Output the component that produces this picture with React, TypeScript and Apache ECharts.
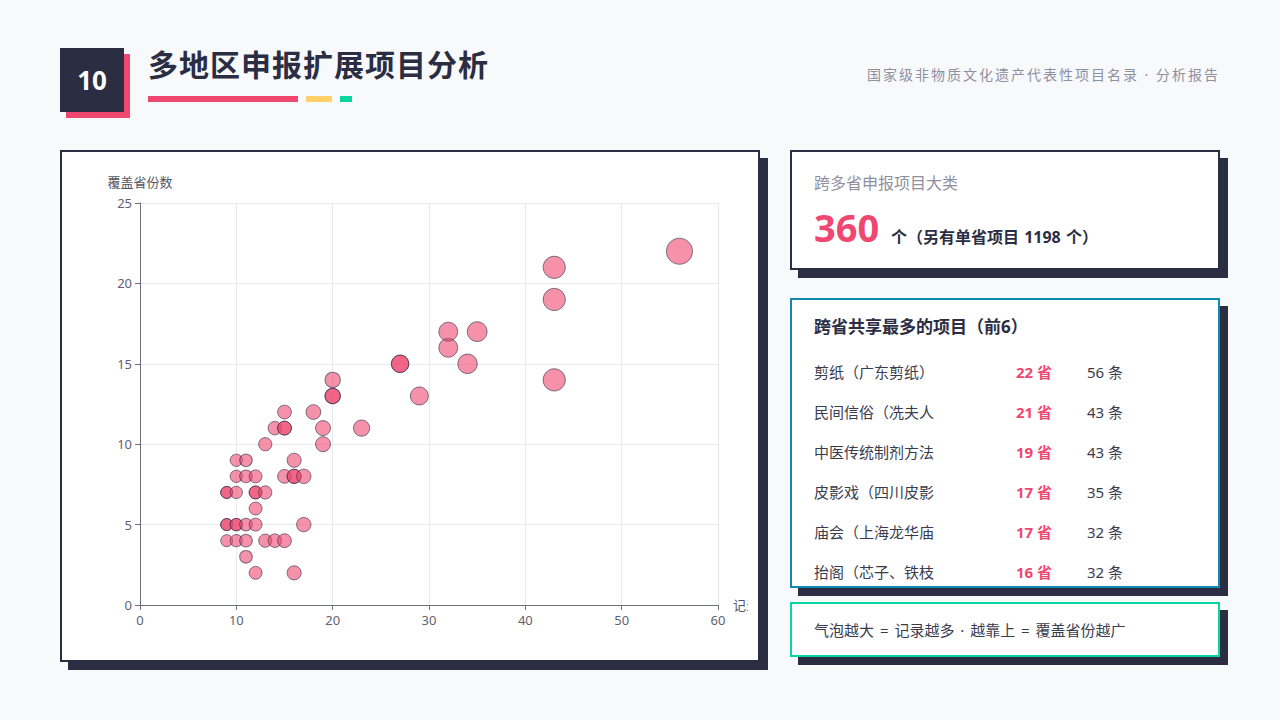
import React, { useEffect, useRef } from "react";
import * as echarts from "echarts";

const FONT = '"Noto Sans", "Noto Sans CJK SC", sans-serif';

// scatter: x = 记录数, y = 覆盖省份数
const recordCounts = [
  9, 9, 10, 12, 12, 13,
  9, 9, 10, 10, 11, 12, 17,
  9, 10, 11, 13, 14, 15,
  10, 11, 16,
  10, 11, 12, 15, 16, 16, 17,
  12,
  11,
  12, 16,
  13, 19,
  14, 15, 15, 19, 23,
  15, 18,
  20, 20, 29,
  20, 43,
  27, 27, 34,
  32,
  32, 35,
  43,
  43,
  56,
];
const provinceCounts = [
  7, 7, 7, 7, 7, 7,
  5, 5, 5, 5, 5, 5, 5,
  4, 4, 4, 4, 4, 4,
  9, 9, 9,
  8, 8, 8, 8, 8, 8, 8,
  6,
  3,
  2, 2,
  10, 10,
  11, 11, 11, 11, 11,
  12, 12,
  13, 13, 13,
  14, 14,
  15, 15, 15,
  16,
  17, 17,
  19,
  21,
  22,
];

const xTickMax = 60;
const yTickMax = 25;

const topNames = [
  "剪纸（广东剪纸）",
  "民间信俗（冼夫人",
  "中医传统制剂方法",
  "皮影戏（四川皮影",
  "庙会（上海龙华庙",
  "抬阁（芯子、铁枝",
];
const topProvinces = [22, 21, 19, 17, 17, 16];
const topRecords = [56, 43, 43, 35, 32, 32];

const DARK = "#2b2d42";
const PINK = "#ef476f";

function T(props: {
  x?: number;
  right?: number;
  cy: number;
  size: number;
  color: string;
  bold?: boolean;
  ls?: number;
  ws?: number;
  children: React.ReactNode;
}) {
  const L = Math.round(props.size * 1.3);
  const top = props.cy - L / 2 - 0.056 * props.size;
  const style: React.CSSProperties = {
    position: "absolute",
    top,
    lineHeight: L + "px",
    height: L,
    fontSize: props.size,
    color: props.color,
    fontWeight: props.bold ? 700 : 400,
    whiteSpace: "nowrap",
    letterSpacing: props.ls ? props.ls + "px" : undefined,
    wordSpacing: props.ws ? props.ws + "px" : undefined,
    fontFamily: FONT,
  };
  if (props.right !== undefined) {
    style.right = props.right;
    style.textAlign = "right";
  } else style.left = props.x;
  return <div style={style}>{props.children}</div>;
}

function box(
  left: number,
  top: number,
  w: number,
  h: number,
  border: string
): React.CSSProperties {
  return {
    position: "absolute",
    left,
    top,
    width: w,
    height: h,
    boxSizing: "border-box",
    border: "2px solid " + border,
    background: "#ffffff",
    boxShadow: "8px 8px 0 " + DARK,
  };
}

function Chart() {
  const ref = useRef<HTMLDivElement>(null);
  useEffect(() => {
    if (!ref.current) return;
    const chart = echarts.init(ref.current, undefined, { renderer: "svg" });
    const data = recordCounts.map((r, i) => [r, provinceCounts[i]]);
    const axisCommon = {
      type: "value" as const,
      min: 0,
      nameGap: 15,
      nameTextStyle: { fontSize: 13, color: "#545666", fontFamily: FONT },
      axisLine: { show: true, lineStyle: { color: "#6e7079" } },
      axisTick: { show: true, length: 5, lineStyle: { color: "#6e7079" } },
      axisLabel: { fontSize: 13, color: "#5f6170", margin: 8, fontFamily: FONT },
      splitLine: { show: true, lineStyle: { color: "#e8e9ee" } },
    };
    chart.setOption({
      animation: false,
      textStyle: { fontFamily: FONT },
      grid: {
        left: 78,
        top: 51,
        right: 30,
        bottom: 55,
        containLabel: false,
        outerBoundsMode: "none",
      },
      xAxis: { ...axisCommon, max: xTickMax, interval: 10, name: "记录数" },
      yAxis: { ...axisCommon, max: yTickMax, interval: 5, name: "覆盖省份数" },
      series: [
        {
          type: "scatter",
          data,
          symbolSize: (v: number[]) => 9.3 + 0.3 * v[0],
          itemStyle: {
            color: PINK,
            opacity: 0.6,
            borderColor: DARK,
            borderWidth: 1,
          },
        },
      ],
    });
    return () => chart.dispose();
  }, []);
  return (
    <div
      ref={ref}
      style={{ position: "absolute", left: 0, top: 0, width: 686, height: 508, overflow: "hidden" }}
    />
  );
}

export default function App() {
  const rowY = [373, 413, 453, 493, 533, 573];
  return (
    <div
      style={{
        position: "fixed",
        left: 0,
        top: 0,
        width: 1280,
        height: 720,
        background: "#f8f9fb",
        fontFamily: FONT,
        overflow: "hidden",
      }}
    >
      {/* header badge */}
      <div style={{ position: "absolute", left: 66, top: 54, width: 64, height: 64, background: PINK }} />
      <div
        style={{
          position: "absolute",
          left: 60,
          top: 48,
          width: 64,
          height: 64,
          background: DARK,
          color: "#fff",
          fontSize: 26,
          fontWeight: 700,
          lineHeight: "64px",
          textAlign: "center",
          fontFamily: FONT,
        }}
      >
        10
      </div>
      <T x={148} cy={66} size={30} color={DARK} bold ls={1}>
        多地区申报扩展项目分析
      </T>
      <div style={{ position: "absolute", left: 148, top: 96, width: 150, height: 6, background: PINK }} />
      <div style={{ position: "absolute", left: 306, top: 96, width: 26, height: 6, background: "#ffd166" }} />
      <div style={{ position: "absolute", left: 340, top: 96, width: 12, height: 6, background: "#06d6a0" }} />
      <T right={60} cy={76} size={14} color="#8e90a0" ls={2}>
        国家级非物质文化遗产代表性项目名录 · 分析报告
      </T>

      {/* chart panel */}
      <div style={box(60, 150, 700, 512, DARK)}>
        <Chart />
      </div>

      {/* card 1 */}
      <div style={box(790, 150, 430, 120, DARK)} />
      <T x={814} cy={184} size={16} color="#8e90a0">
        跨多省申报项目大类
      </T>
      <div
        style={{
          position: "absolute",
          left: 814,
          top: 208,
          lineHeight: "38px",
          fontSize: 38,
          fontWeight: 700,
          color: PINK,
          fontFamily: FONT,
          whiteSpace: "nowrap",
        }}
      >
        360
      </div>
      <T x={891} cy={238} size={16} color={DARK} bold ws={1}>
        个（另有单省项目 1198 个）
      </T>

      {/* card 2 */}
      <div style={box(790, 298, 430, 290, "#118ab2")} />
      <T x={814} cy={328} size={17} color={DARK} bold>
        跨省共享最多的项目（前6）
      </T>
      {topNames.map((n, i) => (
        <React.Fragment key={n}>
          <T x={814} cy={rowY[i]} size={15} color="#3a3c4e">
            {n}
          </T>
          <T x={1016} cy={rowY[i]} size={15} color={PINK} bold>
            {topProvinces[i] + " 省"}
          </T>
          <T x={1087} cy={rowY[i]} size={15} color="#3a3c4e">
            {topRecords[i] + " 条"}
          </T>
        </React.Fragment>
      ))}

      {/* card 3 */}
      <div style={box(790, 602, 430, 55, "#06d6a0")} />
      <T x={814} cy={631} size={15} color="#3a3c4e" ws={2}>
        气泡越大 = 记录越多 · 越靠上 = 覆盖省份越广
      </T>
    </div>
  );
}
